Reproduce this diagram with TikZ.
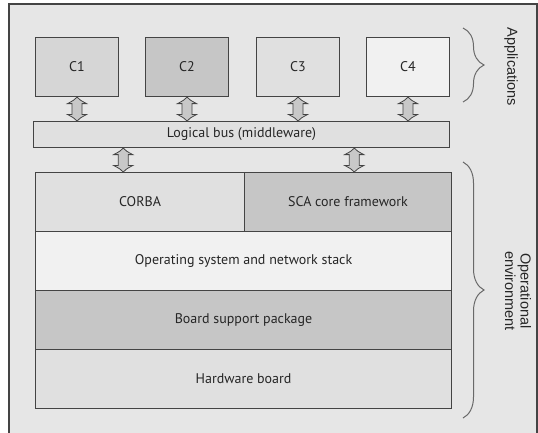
\documentclass[tikz,border=0pt]{standalone}
\usepackage{fontspec}
\setmainfont{PT Sans}
\newfontfamily\sidefont{Liberation Sans}
\usetikzlibrary{calc,decorations.pathreplacing}

\definecolor{panel}{HTML}{E6E6E6}
\definecolor{edge}{HTML}{444444}
\definecolor{lightfill}{HTML}{F1F1F1}
\definecolor{midfill}{HTML}{E0E0E0}
\definecolor{softfill}{HTML}{D6D6D6}
\definecolor{darkfill}{HTML}{C6C6C6}
\definecolor{arrowfill}{HTML}{C8C8C8}

\tikzset{
  layer/.style={draw=edge, line width=1.1pt, inner sep=0pt, anchor=north west,
    font=\fontsize{14}{16}\selectfont, text=black!85},
  appbox/.style={layer, minimum width=83pt, minimum height=59pt},
  busarrow/.style={draw=edge, line width=0.8pt, fill=arrowfill},
  groupbrace/.style={draw=edge!80, line width=1pt,
    decorate, decoration={brace, amplitude=21pt}},
  sidelabel/.style={rotate=-90, align=center, text=black!85,
    font=\sidefont\fontsize{14.5}{15.5}\selectfont}
}

% double-headed block arrow from point #1 (upper) to point #2 (lower)
\newcommand\linkarrow[2]{%
  \path[busarrow] let \p1=(#1), \p2=(#2) in
    (\x1,\y1) .. controls (\x1+3pt,\y1-3pt) .. (\x1+9.5pt,\y1-6.5pt)
    -- (\x1+5pt,\y1-6.5pt) -- (\x1+5pt,\y2+6.5pt) -- (\x1+9.5pt,\y2+6.5pt)
    .. controls (\x1+3pt,\y2+3pt) .. (\x1,\y2)
    .. controls (\x1-3pt,\y2+3pt) .. (\x1-9.5pt,\y2+6.5pt)
    -- (\x1-5pt,\y2+6.5pt) -- (\x1-5pt,\y1-6.5pt) -- (\x1-9.5pt,\y1-6.5pt)
    .. controls (\x1-3pt,\y1-3pt) .. cycle;}

\begin{document}
\begin{tikzpicture}[x=1pt, y=-1pt]
  \useasboundingbox (0,0) rectangle (538,432);
  \begin{scope}
    \clip (0,0) rectangle (538,432);
    \fill[white] (0,0) rectangle (538,432);
    \draw[edge, line width=1.1pt, fill=panel] (9,4) rectangle (537,450);
  \end{scope}

  % application components
  \node[appbox, fill=softfill]  (c1) at (35,37)  {C1};
  \node[appbox, fill=darkfill]  (c2) at (145,37) {C2};
  \node[appbox, fill=midfill]   (c3) at (256,37) {C3};
  \node[appbox, fill=lightfill] (c4) at (366,37) {C4};

  % middleware bus
  \node[layer, fill=midfill, minimum width=416pt, minimum height=26pt]
    (bus) at (33,121) {Logical bus (middleware)};

  % operational environment stack
  \node[layer, fill=midfill, minimum width=209pt, minimum height=59pt]
    (corba) at (35,172) {CORBA};
  \node[layer, fill=darkfill, minimum width=207pt, minimum height=59pt]
    (sca) at (244,172) {SCA core framework};
  \node[layer, fill=lightfill, minimum width=416pt, minimum height=59pt]
    (os) at (35,231) {Operating system and network stack};
  \node[layer, fill=darkfill, minimum width=416pt, minimum height=59pt]
    (bsp) at (35,290) {Board support package};
  \node[layer, fill=midfill, minimum width=416pt, minimum height=59pt]
    (hw) at (35,349) {Hardware board};

  % links between components, bus and stack
  \foreach \c in {c1,c2,c3,c4}{\linkarrow{\c.south}{\c.south |- bus.north}}
  \coordinate (ltop) at ($(bus.south -| corba.north west)!0.42!(bus.south -| corba.north east)$);
  \coordinate (rtop) at ($(bus.south -| sca.north west)!0.53!(bus.south -| sca.north east)$);
  \linkarrow{ltop}{ltop |- corba.north}
  \linkarrow{rtop}{rtop |- sca.north}

  % group braces
  \coordinate (appa) at (463,28);
  \coordinate (appb) at (463,102);
  \coordinate (opa) at (463,162);
  \coordinate (opb) at (463,418);
  \draw[groupbrace] (appa) -- (appb);
  \draw[groupbrace] (opa) -- (opb);
  \node[sidelabel] (applbl) at (511,67) {Applications};
  \node[sidelabel] (oplbl) at (518,291) {Operational\\environment};
\end{tikzpicture}
\end{document}
